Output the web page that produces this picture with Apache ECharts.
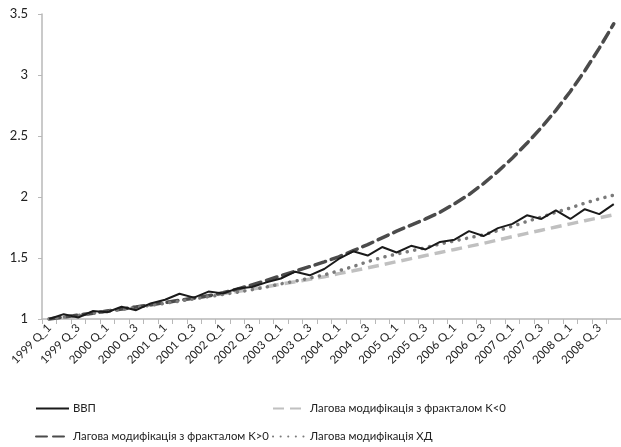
<!DOCTYPE html>
<html>
<head>
<meta charset="utf-8">
<script src="https://cdn.jsdelivr.net/npm/echarts@6/dist/echarts.min.js"></script>
<style>
html,body{margin:0;padding:0;background:#fff;}
#chart{width:621px;height:447px;}
</style>
</head>
<body>
<div id="chart"></div>
<script>
// Categories: 1999 Q_1 ... 2008 Q_4
var years = ['1999','2000','2001','2002','2003','2004','2005','2006','2007','2008'];
var quarters = ['Q_1','Q_2','Q_3','Q_4'];
var categories = [];
years.forEach(function(y){ quarters.forEach(function(q){ categories.push(y + ' ' + q); }); });

var seriesNames = [
  'ВВП',
  'Лагова модифікація з фракталом K<0',
  'Лагова модифікація з фракталом K>0',
  'Лагова модифікація ХД'
];

var gdp = [1.000,1.040,1.012,1.065,1.055,1.100,1.072,1.128,1.158,1.207,
           1.175,1.225,1.210,1.250,1.262,1.300,1.332,1.388,1.358,1.410,
           1.492,1.555,1.520,1.590,1.545,1.600,1.570,1.632,1.650,1.720,
           1.680,1.745,1.780,1.850,1.820,1.890,1.820,1.900,1.860,1.942];

var kNeg = [1.000,1.015,1.031,1.047,1.064,1.081,1.098,1.115,1.133,1.151,
            1.170,1.188,1.207,1.226,1.245,1.265,1.285,1.305,1.326,1.347,
            1.372,1.395,1.420,1.445,1.470,1.495,1.520,1.545,1.570,1.595,
            1.620,1.648,1.675,1.702,1.728,1.754,1.780,1.806,1.830,1.855];

var kPos = [1.000,1.016,1.032,1.048,1.065,1.082,1.099,1.117,1.135,1.153,
            1.172,1.190,1.215,1.245,1.280,1.315,1.355,1.392,1.430,1.468,
            1.510,1.560,1.610,1.665,1.720,1.770,1.820,1.875,1.945,2.020,
            2.110,2.210,2.320,2.440,2.570,2.710,2.865,3.035,3.220,3.420];

var hd = [1.000,1.015,1.030,1.046,1.062,1.078,1.095,1.112,1.129,1.147,
          1.165,1.183,1.201,1.220,1.240,1.262,1.288,1.310,1.335,1.362,
          1.395,1.430,1.470,1.505,1.532,1.558,1.585,1.615,1.640,1.665,
          1.690,1.725,1.760,1.800,1.835,1.875,1.910,1.950,1.985,2.015];

var yTicks = {min: 1, max: 3.5, interval: 0.5};

var chart = echarts.init(document.getElementById('chart'), null, {renderer: 'canvas'});
var FONT = 'Lato';
function legendAt(name, left, top){
  return {
    data: [name], left: left, top: top, orient: 'horizontal',
    itemWidth: 33, itemHeight: 8, itemGap: 0, padding: 0,
    itemStyle: {opacity: 0},
    textStyle: {fontFamily: FONT, fontSize: 11.3, color: '#222', padding: [0,0,0,-1]}
  };
}
var option = {
  backgroundColor: '#ffffff',
  animation: false,
  grid: {left: 42, right: -3, top: 14, bottom: 128, containLabel: false},
  legend: [
    legendAt(seriesNames[0], 35, 403),
    legendAt(seriesNames[1], 272, 403),
    legendAt(seriesNames[2], 35, 431),
    legendAt(seriesNames[3], 272, 431)
  ],
  xAxis: {
    type: 'category',
    data: categories,
    boundaryGap: true,
    axisLine: {show: true, lineStyle: {color: '#b8b8b8', width: 1.5}},
    axisTick: {show: true, interval: 0, length: 5, lineStyle: {color: '#b8b8b8', width: 1}},
    axisLabel: {interval: 1, rotate: 45, fontFamily: FONT, fontSize: 11.5, color: '#222', margin: 7},
    splitLine: {show: false}
  },
  yAxis: {
    type: 'value',
    min: yTicks.min, max: yTicks.max, interval: yTicks.interval,
    axisLine: {show: true, lineStyle: {color: '#b8b8b8', width: 1.5}},
    axisTick: {show: true, length: 4, lineStyle: {color: '#b8b8b8'}},
    axisLabel: {fontFamily: FONT, fontSize: 13, color: '#222', margin: 14},
    splitLine: {show: false}
  },
  series: [
    {name: seriesNames[0], type: 'line', data: gdp, symbol: 'none', z: 4,
     lineStyle: {color: '#1a1a1a', width: 2}, itemStyle: {color: '#1a1a1a'}},
    {name: seriesNames[1], type: 'line', data: kNeg, symbol: 'none', z: 2,
     lineStyle: {color: '#c0c0c0', width: 3.5, type: [11, 6]}, itemStyle: {color: '#c0c0c0'}},
    {name: seriesNames[2], type: 'line', data: kPos, symbol: 'none', z: 3,
     lineStyle: {color: '#4b4b4b', width: 3.5, type: [11, 6], cap: 'round'}, itemStyle: {color: '#4b4b4b'}},
    {name: seriesNames[3], type: 'line', data: hd, symbol: 'none', z: 3,
     lineStyle: {color: '#7a7a7a', width: 3.5, type: [0.1, 7.5], cap: 'round'}, itemStyle: {color: '#7a7a7a'}}
  ]
};
chart.setOption(option);
</script>
</body>
</html>
